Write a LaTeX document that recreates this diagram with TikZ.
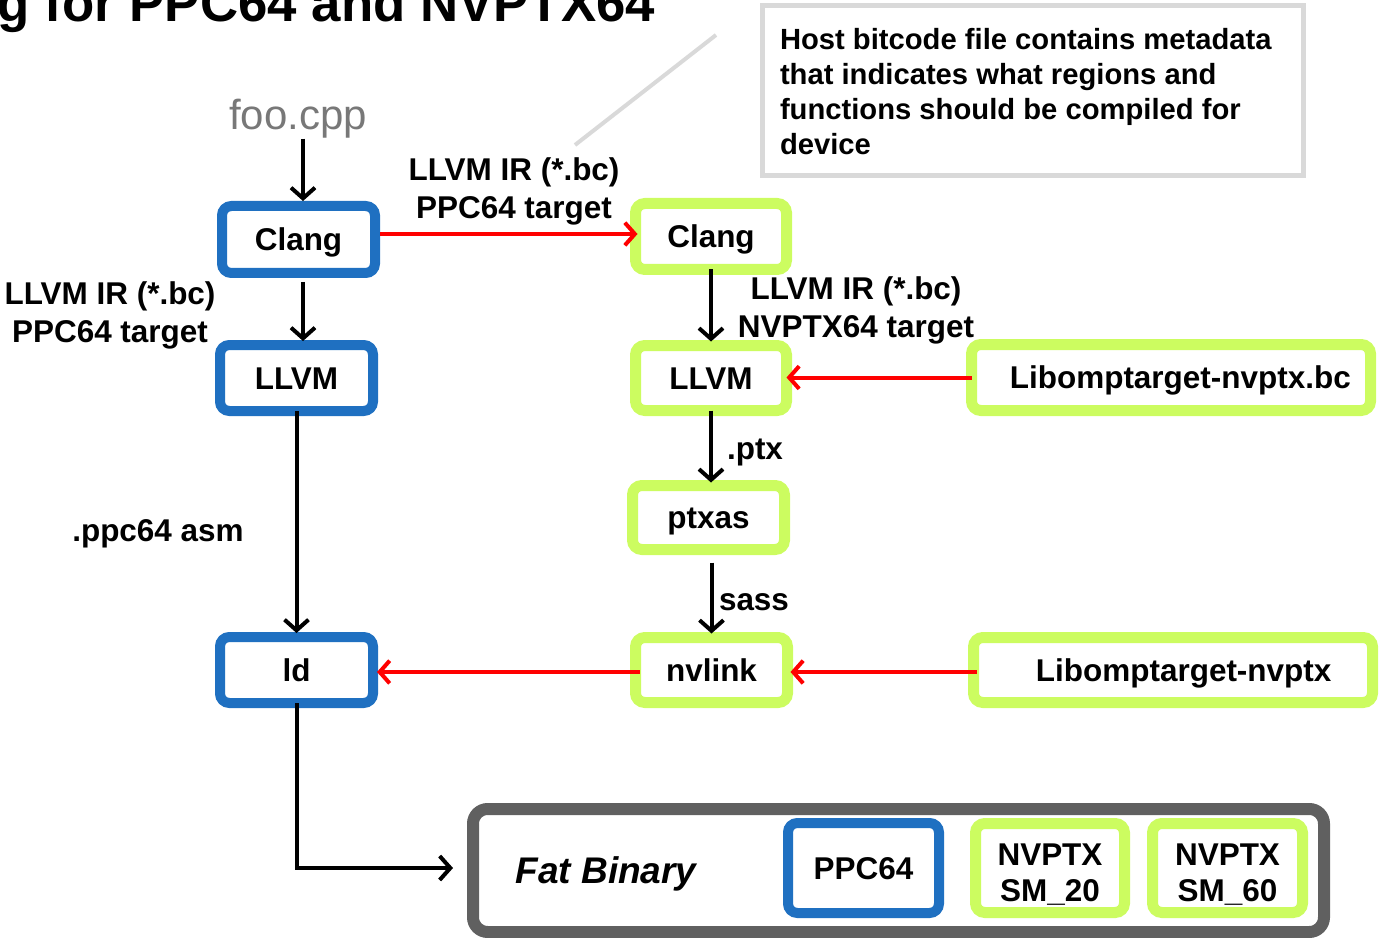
\documentclass[tikz,border=0pt]{standalone}
\usepackage{fontspec}
\setmainfont{Liberation Sans}
\usetikzlibrary{arrows.meta,calc}
\definecolor{boxblue}{RGB}{31,112,193}
\definecolor{boxgreen}{RGB}{204,252,96}
\definecolor{callgray}{RGB}{217,217,217}
\definecolor{fatgray}{RGB}{96,96,96}
\definecolor{foogray}{RGB}{120,120,120}
\tikzset{
  every node/.style={outer sep=0pt, inner sep=0pt},
  mainfont/.style={font=\fontsize{23.6}{28.5}\selectfont\bfseries},
  procbox/.style={mainfont, rounded corners=7pt, fill=white, text height=17pt, text depth=0pt},
  bluebox/.style={procbox, draw=boxblue, line width=7.5pt},
  greenbox/.style={procbox, draw=boxgreen, line width=8.25pt},
  lbl/.style={mainfont, align=center},
  slbl/.style={mainfont, text height=17pt, text depth=0pt},
  blk/.style={draw=black, line width=3pt, -{Straight Barb[length=8pt,width=18pt]}},
  redarr/.style={draw=red, line width=3pt, -{Straight Barb[length=7.5pt,width=17pt]}},
}
\begin{document}
\begin{tikzpicture}[x=0.75pt, y=-0.75pt]
\useasboundingbox (0,0) rectangle (1379,938);
% title (cut at top)
\node[anchor=base east, font=\fontsize{39.6}{45}\selectfont\bfseries] (title) at (655,22) {g for PPC64 and NVPTX64};
% callout
\node[draw=callgray, line width=3.75pt, minimum width=541*0.75pt, minimum height=170*0.75pt] (callout) at (1033,90.5) {};
\node[anchor=west, align=left, font=\fontsize{21.9}{26.25}\selectfont\bfseries] (calltext) at (780,92)
  {Host bitcode file contains metadata\\that indicates what regions and\\functions should be compiled for\\device};
\coordinate (d1) at (716,35);
\coordinate (d2) at (575,145);
\draw[callgray, line width=3pt] (d1) -- (d2);
% source
\node[anchor=base, text=foogray, font=\fontsize{31.5}{36}\selectfont] (foo) at (298,130) {foo.cpp};
% host chain
\node[bluebox, minimum width=153*0.75pt, minimum height=67*0.75pt] (bclang) at (298.5,239.5) {Clang};
\node[bluebox, minimum width=153*0.75pt, minimum height=66*0.75pt] (bllvm) at (296.5,378) {LLVM};
\node[bluebox, minimum width=153*0.75pt, minimum height=66*0.75pt] (bld) at (296.5,670) {ld};
% device chain
\node[greenbox, minimum width=151*0.75pt, minimum height=66*0.75pt] (gclang) at (711,236.5) {Clang};
\node[greenbox, minimum width=151*0.75pt, minimum height=65*0.75pt] (gllvm) at (711,378) {LLVM};
\node[greenbox, minimum width=399*0.75pt, minimum height=66*0.75pt] (libbc) at (1171,377.5) {\hspace*{14pt}Libomptarget-nvptx.bc};
\node[greenbox, minimum width=152*0.75pt, minimum height=64*0.75pt] (ptxas) at (708.5,517.5) {ptxas};
\node[greenbox, minimum width=152*0.75pt, minimum height=65*0.75pt] (nvlink) at (711.5,670) {nvlink};
\node[greenbox, minimum width=399*0.75pt, minimum height=65*0.75pt] (lib) at (1173,670) {\hspace*{16pt}Libomptarget-nvptx};
% fat binary
\node[draw=fatgray, line width=9pt, rounded corners=11pt, fill=white, minimum width=851*0.75pt, minimum height=123*0.75pt] (fat) at (898.5,870.5) {};
\node[font=\fontsize{27.8}{32}\selectfont\bfseries\itshape] (fattext) at (606,874) {Fat Binary};
\node[bluebox, minimum width=151*0.75pt, minimum height=90*0.75pt] (ppc) at (863.5,868) {PPC64};
\node[greenbox, align=center, text height=, text depth=, minimum width=149*0.75pt, minimum height=89*0.75pt] (sm20) at (1050,868) {\rule{0pt}{26pt}NVPTX\\[-1pt]SM\_20};
\node[greenbox, align=center, text height=, text depth=, minimum width=150*0.75pt, minimum height=89*0.75pt] (sm60) at (1227.5,868) {\rule{0pt}{26pt}NVPTX\\[-1pt]SM\_60};
% labels
\node[lbl] (lbl1) at (514,191) {LLVM IR (*.bc)\\PPC64 target};
\node[lbl] (lbl2) at (110,315.5) {LLVM IR (*.bc)\\PPC64 target};
\node[lbl] (lbl3) at (856,310) {LLVM IR (*.bc)\\NVPTX64 target};
\node[slbl] (ptxlbl) at (755,448) {.ptx};
\node[slbl] (sasslbl) at (754,599) {sass};
\node[slbl] (asmlbl) at (158,530) {.ppc64 asm};
% black connectors
\draw[blk] ($(foo.south -| bclang.north)+(4.5,0)$) -- ($(bclang.north)+(4.5,-5)$);
\draw[blk] ($(bclang.south)+(4.5,9)$) -- ($(bclang.south |- bllvm.north)+(4.5,-4)$);
\draw[blk] (bllvm.south) -- ($(bld.north)+(0,-4)$);
\draw[blk] (bld.south) |- ($(fat.west)+(-20,-2.5)$);
\draw[blk] (gclang.south) -- ($(gllvm.north)+(0,-4)$);
\draw[blk] (gllvm.south) -- ($(gllvm.south |- ptxas.north)+(0,-3)$);
\draw[blk] ($(ptxas.south -| nvlink.north)+(0,13)$) -- ($(nvlink.north)+(0,-4)$);
% red connectors
\draw[redarr] ($(bclang.east)+(5,-5.5)$) -- ($(gclang.west)+(2,-2.5)$);
\draw[redarr] (libbc.west) -- (libbc.west -| gllvm.east);
\draw[redarr] ($(lib.west)+(3,2)$) -- ($(nvlink.east)+(3,2)$);
\draw[redarr] ($(nvlink.west)+(4,2)$) -- ($(bld.east)+(4,2)$);
\end{tikzpicture}
\end{document}
